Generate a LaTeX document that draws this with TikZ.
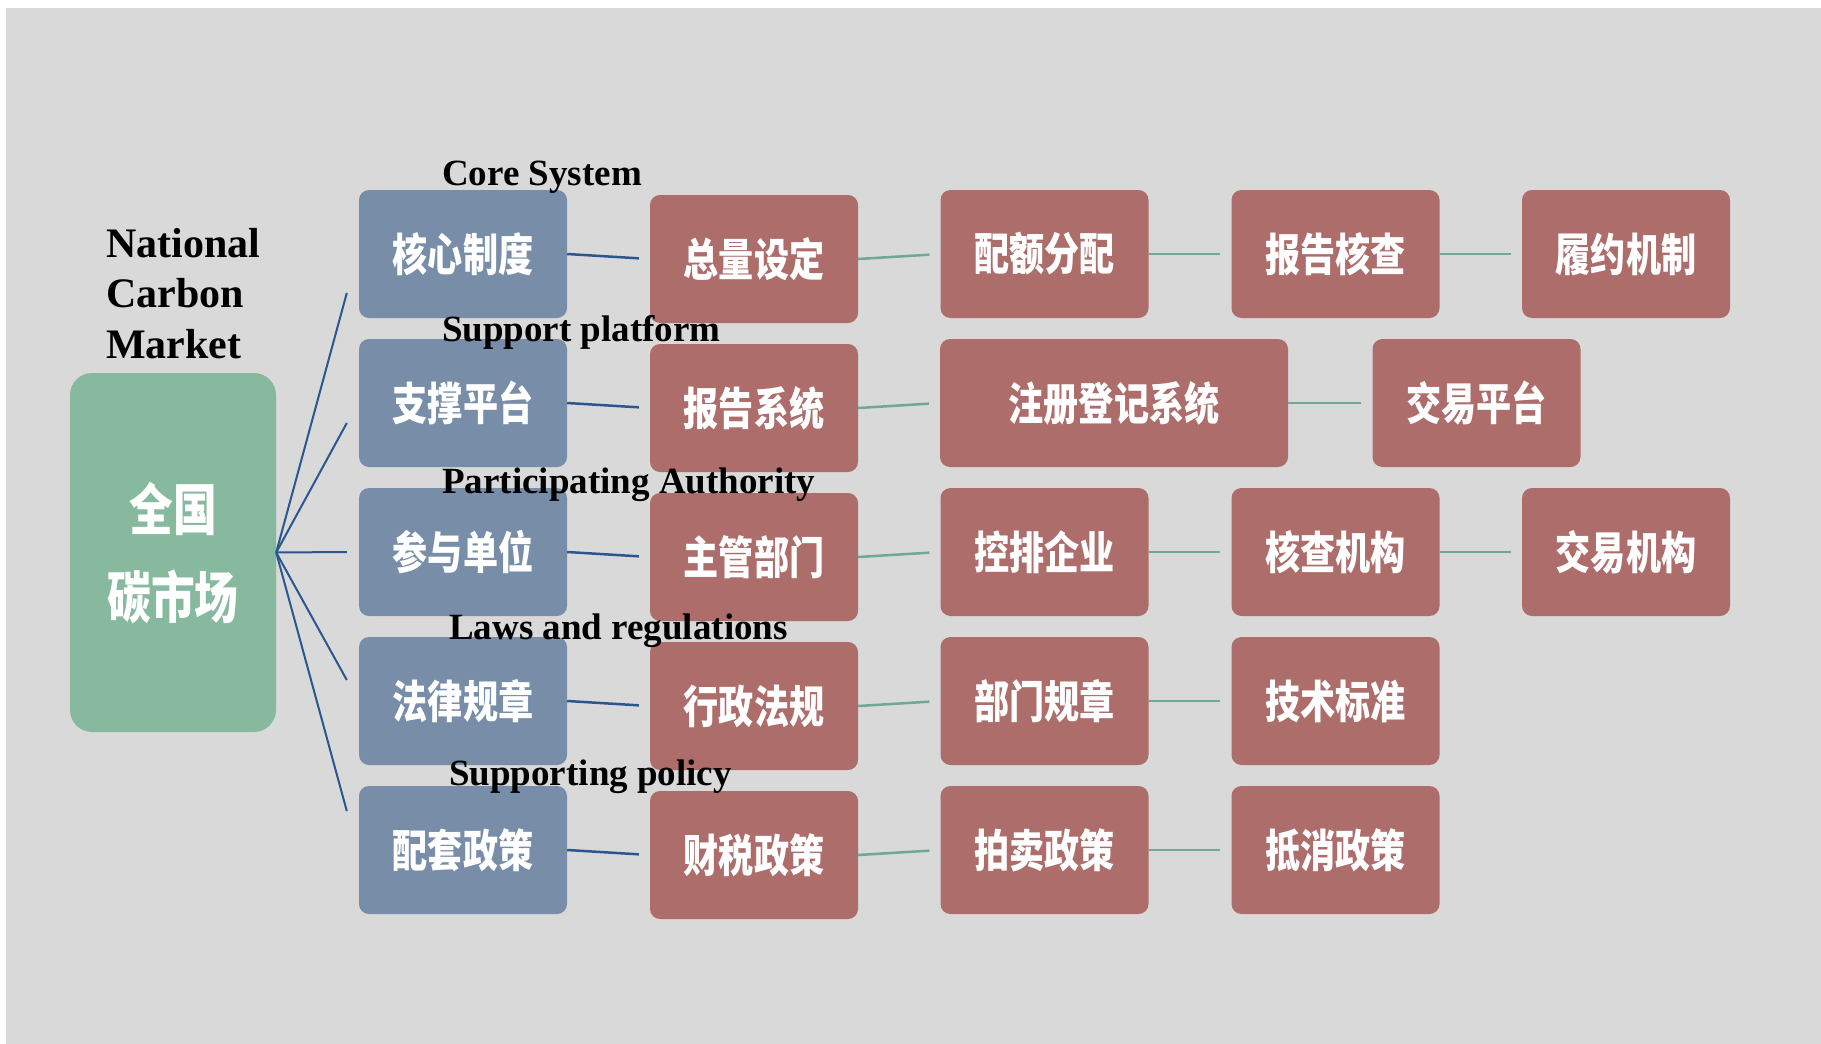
\documentclass[tikz,border=0pt]{standalone}
\usepackage{fontspec}
\setmainfont{Liberation Serif}
\newfontfamily\cjk{Noto Sans CJK SC}[FakeStretch=0.78]
\usetikzlibrary{calc}
\definecolor{bg}{HTML}{D9D9D9}
\definecolor{gbox}{HTML}{86B99E}
\definecolor{bbox}{HTML}{788DA7}
\definecolor{rbox}{HTML}{AD6D6B}
\definecolor{bline}{HTML}{2B5690}
\definecolor{tline}{HTML}{6FA898}
\begin{document}
\begin{tikzpicture}[x=1pt,y=-1pt,
  box/.style={rounded corners=10pt, minimum width=208pt, minimum height=128pt, inner sep=0pt, text=white, font=\cjk\bfseries\fontsize{45}{45}\selectfont},
  bluebox/.style={box, fill=bbox},
  redbox/.style={box, fill=rbox},
  lab/.style={anchor=base west, inner sep=0pt, font=\bfseries\fontsize{37}{37}\selectfont},
  ttl/.style={anchor=base west, inner sep=0pt, font=\bfseries\fontsize{42}{42}\selectfont},
  fan/.style={draw=bline, line width=2pt},
  link/.style={draw=bline, line width=2.5pt, shorten >=11pt},
  tlink/.style={draw=tline, line width=2.5pt, shorten >=11pt}]
\fill[white] (0,0) rectangle (1821,1044);
\fill[bg] (6,8) rectangle (1821,1044);
\useasboundingbox (0,0) rectangle (1821,1044);

% root
\node[fill=gbox, rounded corners=22pt, minimum width=206pt, minimum height=359pt, inner sep=0pt, text=white, align=center, font=\cjk\bfseries\fontsize{56}{88}\selectfont] (root) at (173,552.5) {全国\\碳市场};

% blue column
\node[bluebox] (b1) at (463,254) {核心制度};
\node[bluebox] (b2) at (463,403) {支撑平台};
\node[bluebox] (b3) at (463,552) {参与单位};
\node[bluebox] (b4) at (463,701) {法律规章};
\node[bluebox] (b5) at (463,850) {配套政策};

% red column 1
\node[redbox] (r1) at (754,259) {总量设定};
\node[redbox] (r2) at (754,408) {报告系统};
\node[redbox] (r3) at (754,557) {主管部门};
\node[redbox] (r4) at (754,706) {行政法规};
\node[redbox] (r5) at (754,855) {财税政策};

% row 1
\node[redbox] (a2) at (1044.5,254) {配额分配};
\node[redbox] (a3) at (1335.5,254) {报告核查};
\node[redbox] (a4) at (1626,254) {履约机制};
% row 2
\node[redbox, minimum width=348pt] (c2) at (1114,403) {注册登记系统};
\node[redbox] (c3) at (1476.5,403) {交易平台};
% row 3
\node[redbox] (d2) at (1044.5,552) {控排企业};
\node[redbox] (d3) at (1335.5,552) {核查机构};
\node[redbox] (d4) at (1626,552) {交易机构};
% row 4
\node[redbox] (e2) at (1044.5,701) {部门规章};
\node[redbox] (e3) at (1335.5,701) {技术标准};
% row 5
\node[redbox] (g2) at (1044.5,850) {拍卖政策};
\node[redbox] (g3) at (1335.5,850) {抵消政策};

% fan ends
\coordinate (f1) at ($(b1.west)+(-12,39)$);
\coordinate (f2) at ($(b2.west)+(-12,20)$);
\coordinate (f3) at ($(b3.west)+(-12,0)$);
\coordinate (f4) at ($(b4.west)+(-12,-21)$);
\coordinate (f5) at ($(b5.west)+(-12,-39)$);
\foreach \i in {1,...,5}{\draw[fan] (root.east) -- (f\i);}

% blue -> red links
\foreach \i in {1,...,5}{\draw[link] (b\i.east) -- (r\i.west);}

% teal links
\draw[tlink] (r1.east) -- (a2.west);
\draw[tlink] (a2.east) -- (a3.west);
\draw[tlink] (a3.east) -- (a4.west);
\draw[tlink] (r2.east) -- (c2.west);
\draw[tlink] (c2.east) -- (c3.west);
\draw[tlink] (r3.east) -- (d2.west);
\draw[tlink] (d2.east) -- (d3.west);
\draw[tlink] (d3.east) -- (d4.west);
\draw[tlink] (r4.east) -- (e2.west);
\draw[tlink] (e2.east) -- (e3.west);
\draw[tlink] (r5.east) -- (g2.west);
\draw[tlink] (g2.east) -- (g3.west);

% labels
\node[ttl] (t1) at (106,257) {National};
\node[ttl] (t2) at (106,307) {Carbon};
\node[ttl] (t3) at (106,358) {Market};
\node[lab] (l1) at (442,185) {Core System};
\node[lab] (l2) at (442,341) {Support platform};
\node[lab] (l3) at (442,493) {Participating Authority};
\node[lab] (l4) at (449,639) {Laws and regulations};
\node[lab] (l5) at (449,785) {Supporting policy};
\end{tikzpicture}
\end{document}
